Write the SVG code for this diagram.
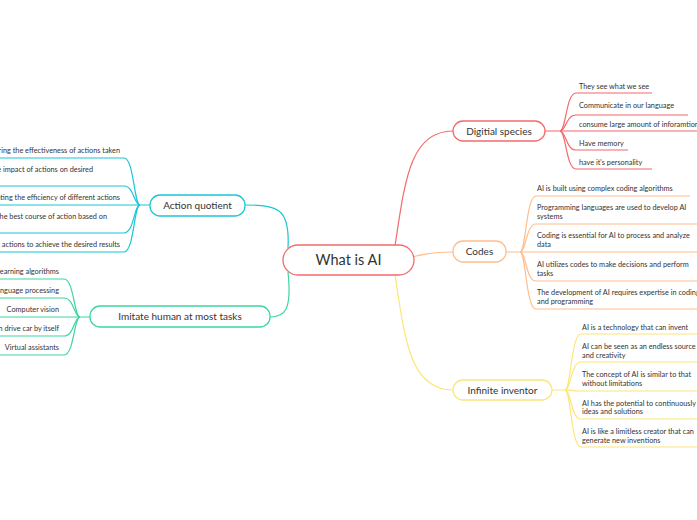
<svg xmlns="http://www.w3.org/2000/svg" width="697" height="520" viewBox="0 0 697 520">
<style>
text{font-family:Lato,"Open Sans","Liberation Sans",sans-serif;fill:#333}
.t{font-size:7.3px}
.m{font-size:10px}
.c{fill:none;stroke-width:1.2}
.r{stroke:#f26b6b}.o{stroke:#ffbe8c}.y{stroke:#fbe67a}.b{stroke:#1bc6d6}.g{stroke:#3dd6a0}
.n{fill:#fff;stroke-width:1.3}
</style>
<rect width="697" height="520" fill="#fff"/>
<g id="connectors">
<path class="c r" d="M395,246 C405,180 410,131 453,131" stroke-width="1.5"/>
<path class="c o" d="M400,260 C420,255 430,252 453,252" stroke-width="1.5"/>
<path class="c y" d="M395,275 C405,340 410,390 453,390" stroke-width="1.5"/>
<path class="c b" d="M288,248 C290,210 280,205 245,205" stroke-width="1.5"/>
<path class="c g" d="M288,272 C292,310 285,317 270,317" stroke-width="1.5"/>
<g class="c r">
<path d="M545,131 H560 C566,131 566,93 576,93 H652"/>
<path d="M560,131 C566,131 566,115 576,115 H688"/>
<path d="M560,131 H697"/>
<path d="M560,131 C566,131 566,150 576,150 H628"/>
<path d="M560,131 C566,131 566,169 576,169 H652"/>
</g>
<g class="c o">
<path d="M506,252 H520 C526,252 526,196 536,196 H690"/>
<path d="M520,252 C526,252 526,224 536,224 H697"/>
<path d="M520,252 C526,252 526,252 536,252 H697"/>
<path d="M520,252 C526,252 526,281 536,281 H697"/>
<path d="M520,252 C526,252 526,309 536,309 H697"/>
</g>
<g class="c y">
<path d="M552,390 H565 C571,390 571,334 581,334 H697"/>
<path d="M565,390 C571,390 571,362 581,362 H697"/>
<path d="M565,390 C571,390 571,391 581,391 H697"/>
<path d="M565,390 C571,390 571,419 581,419 H697"/>
<path d="M565,390 C571,390 571,447 581,447 H697"/>
</g>
<g class="c b">
<path d="M150,205 H140 C134,205 134,158 124,158 H0"/>
<path d="M140,205 C134,205 134,186 124,186 H0"/>
<path d="M140,205 H0"/>
<path d="M140,205 C134,205 134,233 124,233 H0"/>
<path d="M140,205 C134,205 134,252 124,252 H0"/>
</g>
<g class="c g">
<path d="M90,317 H80 C74,317 74,279 64,279 H0"/>
<path d="M80,317 C74,317 74,298 64,298 H0"/>
<path d="M80,317 H0"/>
<path d="M80,317 C74,317 74,336 64,336 H0"/>
<path d="M80,317 C74,317 74,355 64,355 H0"/>
</g>
</g>
<g id="center"><rect class="n" x="283" y="245" width="131" height="30" rx="15" stroke="#f26b6b" stroke-width="2.5"/><text x="348.5" y="265" text-anchor="middle" font-size="14.5">What is AI</text></g>
<g id="digitial"><rect class="n" x="453" y="121" width="92" height="20" rx="10" stroke="#f26b6b"/><text class="m" x="499" y="134.5" text-anchor="middle">Digitial species</text>
<text class="t" x="579" y="89">They see what we see</text>
<text class="t" x="579" y="108">Communicate in our language</text>
<text class="t" x="579" y="127">consume large amount of inforamtion</text>
<text class="t" x="579" y="146">Have memory</text>
<text class="t" x="579" y="165">have it's personality</text></g>
<g id="codes"><rect class="n" x="453" y="241" width="53" height="21" rx="10" stroke="#ffbe8c"/><text class="m" x="479.5" y="255" text-anchor="middle">Codes</text>
<text class="t" x="537" y="191">AI is built using complex coding algorithms</text>
<text class="t" x="537" y="210">Programming languages are used to develop AI</text><text class="t" x="537" y="219">systems</text>
<text class="t" x="537" y="238">Coding is essential for AI to process and analyze</text><text class="t" x="537" y="247">data</text>
<text class="t" x="537" y="267">AI utilizes codes to make decisions and perform</text><text class="t" x="537" y="276">tasks</text>
<text class="t" x="537" y="295">The development of AI requires expertise in coding</text><text class="t" x="537" y="304">and programming</text></g>
<g id="inventor"><rect class="n" x="453" y="380" width="99" height="20" rx="10" stroke="#fbe67a"/><text class="m" x="502.5" y="393.5" text-anchor="middle">Infinite inventor</text>
<text class="t" x="582" y="330">AI is a technology that can invent</text>
<text class="t" x="582" y="349">AI can be seen as an endless source</text><text class="t" x="582" y="358">and creativity</text>
<text class="t" x="582" y="377">The concept of AI is similar to that</text><text class="t" x="582" y="386">without limitations</text>
<text class="t" x="582" y="406">AI has the potential to continuously</text><text class="t" x="582" y="414">ideas and solutions</text>
<text class="t" x="582" y="434">AI is like a limitless creator that can</text><text class="t" x="582" y="443">generate new inventions</text></g>
<g id="action"><rect class="n" x="150" y="195" width="95" height="21" rx="10" stroke="#1bc6d6"/><text class="m" x="197.5" y="209" text-anchor="middle">Action quotient</text>
<text class="t" x="120" y="153" text-anchor="end">Measuring the effectiveness of actions taken</text>
<text class="t" x="93" y="172" text-anchor="end">Assessing the impact of actions on desired</text>
<text class="t" x="120" y="200" text-anchor="end">Evaluating the efficiency of different actions</text>
<text class="t" x="107" y="219" text-anchor="end">Determining the best course of action based on</text>
<text class="t" x="120" y="247" text-anchor="end">Optimizing actions to achieve the desired results</text></g>
<g id="imitate"><rect class="n" x="90" y="306" width="180" height="21" rx="10" stroke="#3dd6a0"/><text class="m" x="180" y="320" text-anchor="middle">Imitate human at most tasks</text>
<text class="t" x="59" y="274" text-anchor="end">Machine learning algorithms</text>
<text class="t" x="59" y="293" text-anchor="end">Natural language processing</text>
<text class="t" x="59" y="312" text-anchor="end">Computer vision</text>
<text class="t" x="59" y="331" text-anchor="end">Can drive car by itself</text>
<text class="t" x="59" y="350" text-anchor="end">Virtual assistants</text></g>
</svg>
